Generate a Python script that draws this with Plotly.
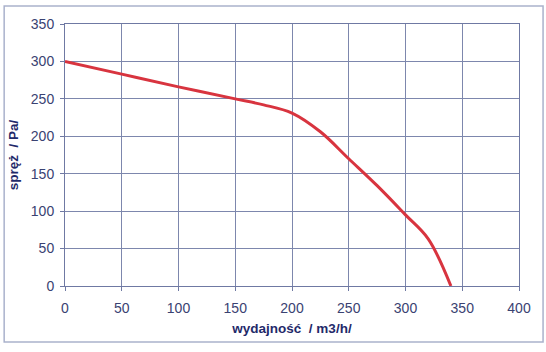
import plotly.graph_objects as go

flow = [0, 50, 100, 150, 175, 200, 225, 250, 275, 300, 320, 340]
pressure = [300, 283, 266, 250, 242, 231, 206, 170, 134, 95, 63, 0]

x_ticks = [0, 50, 100, 150, 200, 250, 300, 350, 400]
y_ticks = [0, 50, 100, 150, 200, 250, 300, 350]

fig = go.Figure()
fig.add_trace(go.Scatter(x=flow, y=pressure, mode="lines",
                         line=dict(color="#d8343f", width=3, shape="spline", smoothing=1.0),
                         showlegend=False, hoverinfo="skip"))

axis_font = dict(family="Liberation Sans, Arial, sans-serif", size=14, color="#3a4272")
title_font = dict(family="Liberation Sans, Arial, sans-serif", size=13.5, color="#1f2a6a")

fig.update_layout(
    width=546, height=352,
    margin=dict(l=65, r=27, t=24, b=66),
    paper_bgcolor="white", plot_bgcolor="white",
    xaxis=dict(range=[0, 400], tickvals=x_ticks, ticktext=[str(v) for v in x_ticks],
               showgrid=True, gridcolor="#7d87ad", gridwidth=1, zeroline=False,
               showline=True, linecolor="#6f79a3", linewidth=1, mirror=True,
               ticks="outside", ticklen=4, tickcolor="#6f79a3",
               ticklabelstandoff=5,
               tickfont=axis_font,
               title=dict(text="<b>wydajność  / m3/h/</b>", font=title_font, standoff=8)),
    yaxis=dict(range=[0, 350], tickvals=y_ticks, ticktext=[str(v) for v in y_ticks],
               showgrid=True, gridcolor="#7d87ad", gridwidth=1, zeroline=False,
               showline=True, linecolor="#6f79a3", linewidth=1, mirror=True,
               ticks="outside", ticklen=4, tickcolor="#6f79a3",
               ticklabelstandoff=3,
               tickfont=axis_font,
               title=dict(text="<b>spręż  / Pa/</b>", font=title_font, standoff=9)),
    shapes=[dict(type="rect", xref="paper", yref="paper",
                 x0=-0.134, x1=1.053, y0=-0.214, y1=1.069,
                 line=dict(color="#aab2cc", width=1.5), fillcolor="rgba(0,0,0,0)")],
)

fig.write_html("out.html")
